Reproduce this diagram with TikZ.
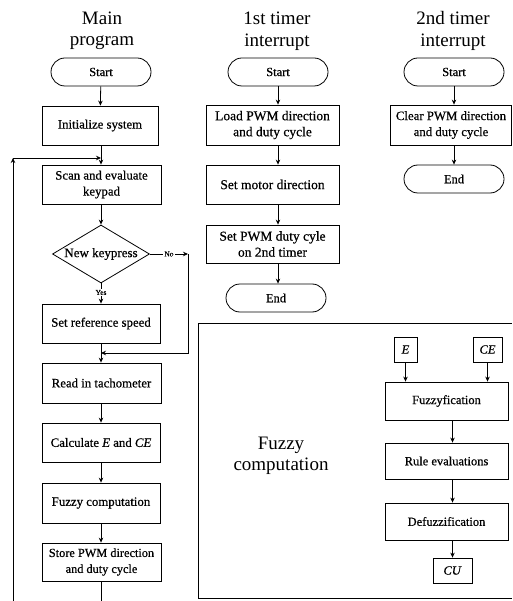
\documentclass[tikz,border=0pt]{standalone}
\usepackage{fontspec}
\setmainfont{Liberation Serif}
\newfontfamily\medfont[FakeBold=0.6]{Liberation Serif}
\usetikzlibrary{shapes.geometric,arrows.meta}
\begin{document}
\begin{tikzpicture}[x=1pt,y=-1pt,
  line width=0.8pt,
  arr/.style={-{Stealth[length=5pt,width=4.5pt]}},
  box/.style={draw, rectangle, inner sep=1pt, align=center, font=\medfont\fontsize{12.8}{16}\selectfont},
  tbox/.style={box, font=\medfont\fontsize{13.5}{16}\selectfont},
  fbox/.style={box, font=\medfont\fontsize{12.5}{16}\selectfont},
  term/.style={draw, rounded corners=14pt, minimum width=100pt, minimum height=28pt, inner sep=0pt, font=\medfont\fontsize{12.5}{14}\selectfont},
  title/.style={align=center, font=\fontsize{19}{21.5}\selectfont},
  lab/.style={fill=white, inner sep=1pt, font=\medfont\fontsize{7.5}{8}\selectfont},
]
\useasboundingbox (0,0) rectangle (512,601);

% ---------- Main program ----------
\node[title] (tmain) at (102,31) {Main\\program};
\node[term] (mstart) at (101,72) {Start};
\node[box, minimum width=116pt, minimum height=39pt] (init) at (100,125.5) {Initialize system};
\node[box, minimum width=119pt, minimum height=39pt] (scan) at (101.5,184.5) {Scan and evaluate\\keypad};
\node[draw, diamond, aspect=1.7, minimum width=97pt, minimum height=58pt, inner sep=0pt,
      font=\medfont\fontsize{13}{14}\selectfont] (dia) at (101,254) {New keypress};
\node[box, minimum width=118pt, minimum height=39pt] (setref) at (101,323.5) {Set reference speed};
\node[box, minimum width=119pt, minimum height=40pt] (read) at (101.5,383) {Read in tachometer};
\node[box, minimum width=118pt, minimum height=39pt] (calc) at (101,442.5) {Calculate \textit{E} and \textit{CE}};
\node[box, minimum width=118pt, minimum height=40pt] (fuzzy) at (101,503) {Fuzzy computation};
\node[box, minimum width=119pt, minimum height=38pt, font=\medfont\fontsize{12.3}{16}\selectfont] (store) at (101.5,562) {Store PWM direction\\and duty cycle};

\coordinate (nocorner) at (188,254);
\coordinate (nomerge) at (188,353);
\coordinate (mjoin) at (101,353);
\coordinate (mbottom) at (101,601);
\coordinate (lbottom) at (13,601);
\coordinate (lcorner) at (13,158);
\coordinate (ljoin) at (101,158);

\draw[arr] (mstart) -- (init);
\draw[arr] (init.south -| mstart.south) -- (scan.north -| mstart.south);
\draw[arr] (scan.south -| mstart.south) -- (dia.north);
\draw[arr] (dia.south) -- node[lab, pos=0.45] {Yes} (setref.north -| dia.south);
\draw[arr] (dia.east) -- node[lab, pos=0.5] {No} (nocorner);
\draw[arr] (nocorner) -- (nomerge) -- (mjoin);
\draw[arr] (setref.south -| dia.south) -- (read.north -| dia.south);
\draw[arr] (read.south -| dia.south) -- (calc.north -| dia.south);
\draw[arr] (calc.south -| dia.south) -- (fuzzy.north -| dia.south);
\draw[arr] (fuzzy.south -| dia.south) -- (store.north -| dia.south);
\draw (store.south -| dia.south) -- (mbottom);
\draw[arr] (lbottom) -- (lcorner);
\draw[arr] (lcorner) -- (ljoin);

% ---------- 1st timer interrupt ----------
\node[title] (tone) at (277,31) {1st timer\\interrupt};
\node[term] (t1start) at (278,72) {Start};
\node[tbox, minimum width=133pt, minimum height=40pt] (load) at (272.5,125) {Load PWM direction\\and duty cycle};
\node[tbox, minimum width=133pt, minimum height=39pt] (motor) at (272.5,184.5) {Set motor direction};
\node[tbox, minimum width=133pt, minimum height=38pt] (setpwm) at (272.5,244) {Set PWM duty cyle\\on 2nd timer};
\node[term] (t1end) at (276,298) {End};

\draw[arr] (t1start) -- (t1start.south |- load.north);
\draw[arr] (load.south -| t1start.south) -- (motor.north -| t1start.south);
\draw[arr] (motor.south -| t1start.south) -- (setpwm.north -| t1start.south);
\draw[arr] (setpwm.south -| t1start.south) -- (t1end.north -| t1start.south);

% ---------- 2nd timer interrupt ----------
\node[title] (ttwo) at (453,31) {2nd timer\\interrupt};
\node[term] (t2start) at (454,72) {Start};
\node[box, minimum width=121pt, minimum height=40pt] (clear) at (451,125) {Clear PWM direction\\and duty cycle};
\node[term] (t2end) at (454,179) {End};

\draw[arr] (t2start) -- (t2start.south |- clear.north);
\draw[arr] (clear.south -| t2start.south) -- (t2end.north);

% ---------- Fuzzy computation ----------
\draw (511.9,323) -- (198,323) -- (198,598) -- (511.9,598);
\node[title] (fclabel) at (281,456) {Fuzzy\\computation};
\node[fbox, minimum width=23pt, minimum height=25pt] (E) at (405.5,349.5) {\textit{E}};
\node[fbox, minimum width=29pt, minimum height=25pt] (CE) at (487.5,349.5) {\textit{CE}};
\node[fbox, minimum width=123pt, minimum height=38pt] (fzf) at (446.5,401) {Fuzzyfication};
\node[fbox, minimum width=123pt, minimum height=36pt] (rule) at (446.5,461) {Rule evaluations};
\node[fbox, minimum width=123pt, minimum height=37pt] (defz) at (446.5,521.5) {Defuzzification};
\node[fbox, minimum width=39pt, minimum height=25pt] (cu) at (452.5,570.5) {\textit{CU}};

\draw[arr] (E.south) -- (E.south |- fzf.north);
\draw[arr] (CE.south) -- (CE.south |- fzf.north);
\draw[arr] (fzf.south -| cu.north) -- (rule.north -| cu.north);
\draw[arr] (rule.south -| cu.north) -- (defz.north -| cu.north);
\draw[arr] (defz.south -| cu.north) -- (cu.north);
\end{tikzpicture}
\end{document}
